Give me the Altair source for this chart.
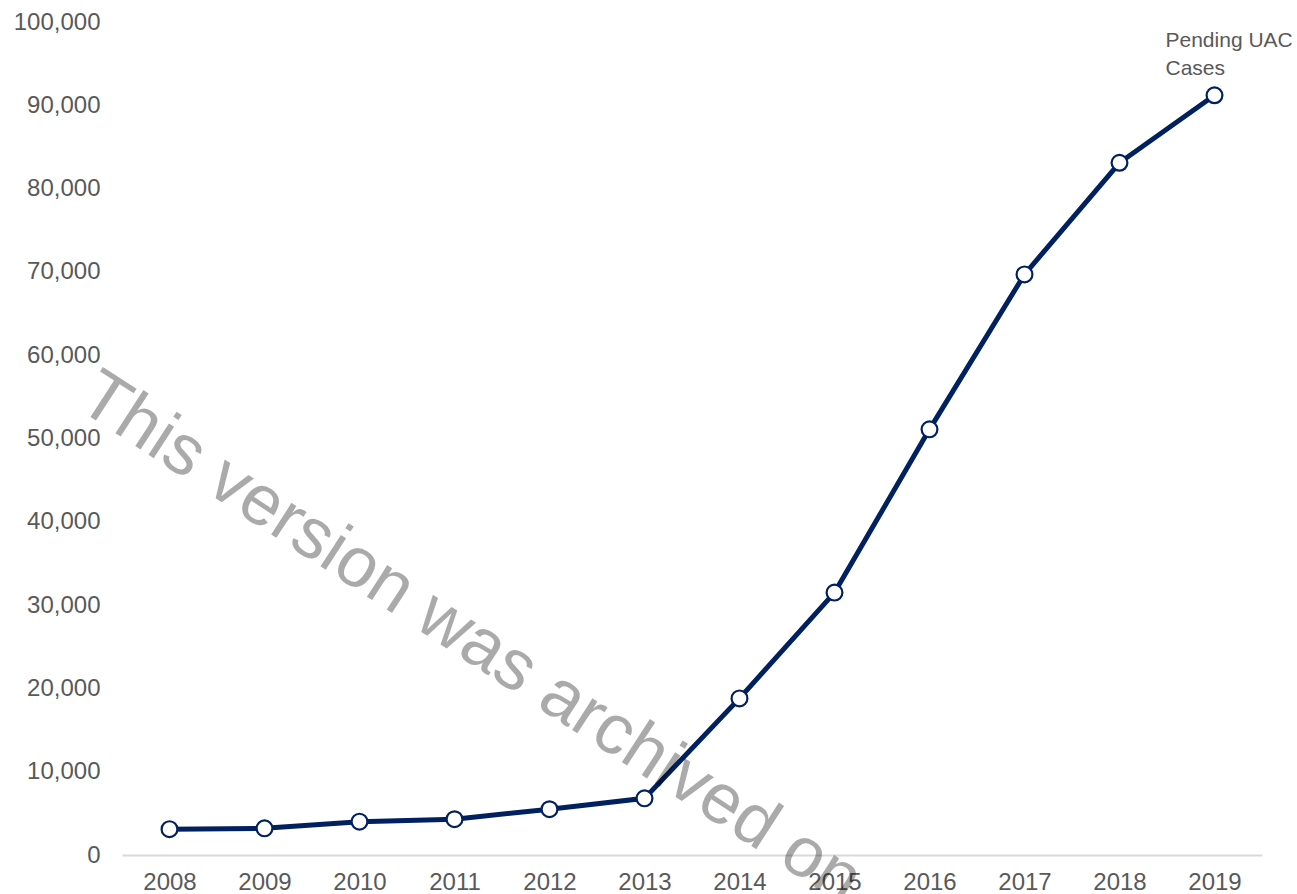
import altair as alt
import pandas as pd

# Pending unaccompanied alien children (UAC) cases by fiscal year
years = ["2008", "2009", "2010", "2011", "2012", "2013",
         "2014", "2015", "2016", "2017", "2018", "2019"]
pending = [3100, 3200, 4000, 4300, 5500, 6800,
           18800, 31500, 51100, 69700, 83100, 91200]

series_label = ["Pending UAC", "Cases"]
watermark_text = "This version was archived on"

df = pd.DataFrame({"year": years, "pending": pending})
last = df.tail(1)

NAVY = "#002060"
GREY = "#595959"
FONT = "Liberation Sans"

x_enc = alt.X("year:O", title=None,
              scale=alt.Scale(type="point", padding=0.5),
              axis=alt.Axis(labelAngle=0, ticks=False, domain=True,
                            domainColor="#d9d9d9", domainWidth=2,
                            labelColor=GREY, labelFontSize=24, labelFont=FONT,
                            labelPadding=15, grid=False))
y_enc = alt.Y("pending:Q", title=None,
              scale=alt.Scale(domain=[0, 100000], nice=False),
              axis=alt.Axis(values=list(range(0, 100001, 10000)), format=",d",
                            ticks=False, domain=False, grid=False,
                            labelColor=GREY, labelFontSize=24, labelFont=FONT,
                            labelPadding=22))

base = alt.Chart(df).encode(x=x_enc, y=y_enc)

line = base.mark_line(color=NAVY, strokeWidth=5)
points = base.mark_point(filled=True, fill="white", stroke=NAVY,
                         strokeWidth=2.2, size=250, opacity=1)

label = alt.Chart(last).mark_text(
    align="left", baseline="bottom", font=FONT, fontSize=21,
    color=GREY, dx=-49, dy=-44, lineHeight=28
).encode(x="year:O", y="pending:Q", text=alt.value(series_label))

watermark = alt.Chart(df.head(1)).mark_text(
    text=watermark_text, align="left", baseline="alphabetic",
    angle=33, font=FONT, fontSize=71, color="#000000", opacity=0.33
).encode(x=alt.value(-47), y=alt.value(385))

chart = (line + points + label + watermark).properties(
    width=1140, height=833,
    autosize=alt.AutoSizeParams(type="none"),
    padding={"left": 122, "top": 22, "right": 35, "bottom": 39},
).configure(background="white").configure_view(stroke=None, strokeWidth=0)

chart.save("out.html", embed_options={"renderer": "svg", "actions": False})
